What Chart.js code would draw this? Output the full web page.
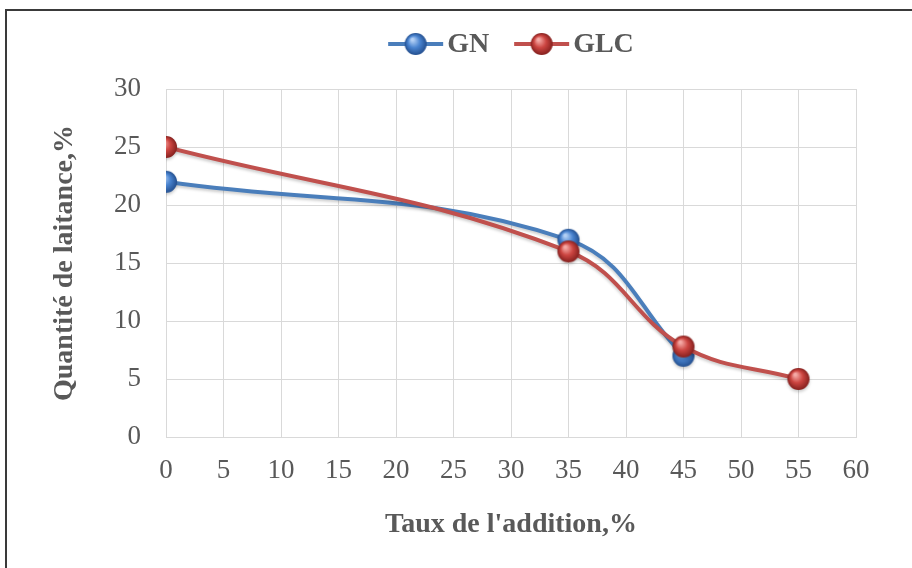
<!DOCTYPE html>
<html>
<head>
<meta charset="utf-8">
<script src="https://cdn.jsdelivr.net/npm/chart.js@4"></script>
<style>
  html, body { margin: 0; padding: 0; background: #fff; }
  #wrap { width: 912px; height: 568px; }
</style>
</head>
<body>
<div id="wrap"><canvas id="laitance"></canvas></div>
<script>
// Laitance vs addition rate (GN has no 55 % sample)
const taux = [0, 35, 45, 55];
const gnValues = [22, 17, 7, null];
const glcValues = [25, 16, 7.8, 5];
const xTicks = [0, 5, 10, 15, 20, 25, 30, 35, 40, 45, 50, 55, 60];
const yTicks = [0, 5, 10, 15, 20, 25, 30];

const serif = "'Times New Roman', 'Liberation Serif', serif";
const grey = '#595959';

// shiny ball markers
function sphere(light, mid, dark, r) {
    const c = document.createElement('canvas');
    const s = r * 2 + 2;
    c.width = s; c.height = s;
    const g = c.getContext('2d');
    const cx = s / 2, cy = s / 2;
    const grad = g.createRadialGradient(cx - r * 0.3, cy - r * 0.4, r * 0.1, cx, cy, r);
    grad.addColorStop(0, light);
    grad.addColorStop(0.5, mid);
    grad.addColorStop(1, dark);
    g.beginPath();
    g.arc(cx, cy, r, 0, Math.PI * 2);
    g.fillStyle = grad;
    g.fill();
    return c;
}

const blueBall = sphere('#b3d0f5', '#4a84d0', '#234f8f', 11);
const redBall = sphere('#f5aaa6', '#cc4541', '#85201e', 11);

const series = [
    { label: 'GLC', values: glcValues, color: '#c0504d', ball: redBall, order: 0 },
    { label: 'GN', values: gnValues, color: '#4a7ebb', ball: blueBall, order: 1 }
];

const frameAndLegend = {
    id: 'frameAndLegend',
    beforeDatasetsDraw(chart) {
        const ctx = chart.ctx;
        ctx.save();
        ctx.shadowColor = 'rgba(0,0,0,0.2)';
        ctx.shadowBlur = 3;
        ctx.shadowOffsetY = 2;
    },
    afterDatasetsDraw(chart) {
        chart.ctx.restore();
    },
    afterDraw(chart) {
        const ctx = chart.ctx;
        ctx.save();
        // outer frame
        ctx.strokeStyle = '#3a3a3a';
        ctx.lineWidth = 2;
        ctx.strokeRect(6, 10, 1000, 1000);

        // legend: GN then GLC
        const items = [series[1], series[0]];
        ctx.font = 'bold 28px ' + serif;
        const lineW = 55, gap = 4, between = 25;
        let total = 0;
        items.forEach((it, i) => {
            total += lineW + gap + ctx.measureText(it.label).width;
            if (i < items.length - 1) total += between;
        });
        const area = chart.chartArea;
        let x = (area.left + area.right) / 2 - total / 2;
        const y = 44;
        ctx.textBaseline = 'middle';
        ctx.fillStyle = grey;
        items.forEach(it => {
            ctx.strokeStyle = it.color;
            ctx.lineWidth = 4;
            ctx.beginPath();
            ctx.moveTo(x, y);
            ctx.lineTo(x + lineW, y);
            ctx.stroke();
            ctx.drawImage(it.ball, x + lineW / 2 - it.ball.width / 2, y - it.ball.height / 2);
            x += lineW + gap;
            ctx.fillText(it.label, x, y + 1);
            x += ctx.measureText(it.label).width + between;
        });
        ctx.restore();
    }
};

new Chart(document.getElementById('laitance'), {
    type: 'line',
    data: {
        datasets: series.map(s => ({
            label: s.label,
            data: taux.map((t, i) => ({ x: t, y: s.values[i] })).filter(p => p.y !== null),
            borderColor: s.color,
            borderWidth: 4,
            tension: 0.4,
            pointStyle: s.ball,
            order: s.order
        }))
    },
    options: {
        responsive: true,
        maintainAspectRatio: false,
        animation: false,
        events: [],
        layout: { padding: { left: 20, right: 56, top: 89, bottom: 10 } },
        plugins: {
            legend: { display: false },
            tooltip: { enabled: false }
        },
        scales: {
            x: {
                type: 'linear',
                min: 0,
                max: 60,
                afterBuildTicks: axis => { axis.ticks = xTicks.map(v => ({ value: v })); },
                afterFit: axis => { axis.height = 121; },
                grid: { color: '#d9d9d9', lineWidth: 1, drawTicks: false },
                border: { color: '#d9d9d9' },
                ticks: { padding: 18, color: grey, font: { family: serif, size: 27 } },
                title: {
                    display: true,
                    text: "Taux de l'addition,%",
                    color: grey,
                    font: { family: serif, size: 28, weight: 'bold' },
                    padding: { bottom: 16 }
                }
            },
            y: {
                min: 0,
                max: 30,
                afterBuildTicks: axis => { axis.ticks = yTicks.map(v => ({ value: v })); },
                afterFit: axis => { axis.width = 146; },
                grid: { color: '#d9d9d9', lineWidth: 1, drawTicks: false },
                border: { display: false },
                ticks: { padding: 25, color: grey, font: { family: serif, size: 27 } },
                title: {
                    display: true,
                    text: 'Quantité de laitance,%',
                    color: grey,
                    font: { family: serif, size: 28, weight: 'bold' },
                    padding: { top: 28 }
                }
            }
        }
    },
    plugins: [frameAndLegend]
});
</script>
</body>
</html>
